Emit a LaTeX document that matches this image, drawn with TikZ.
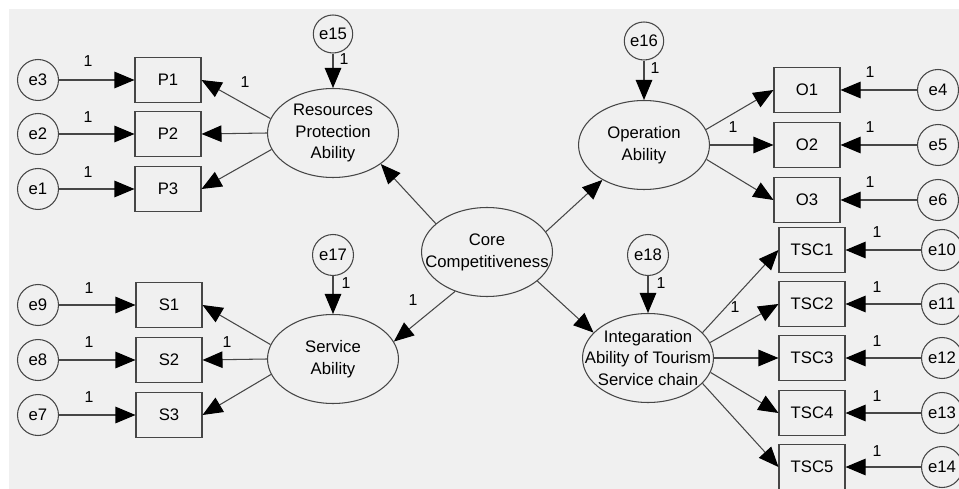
\documentclass[tikz,border=0pt]{standalone}
\usepackage{fontspec}
\setmainfont{Liberation Sans}
\usetikzlibrary{arrows.meta,shapes.geometric}
\definecolor{bggray}{RGB}{240,240,240}
\definecolor{linegray}{RGB}{70,70,70}
\tikzset{
  obs/.style={draw=linegray, line width=0.6pt, rectangle, minimum width=1.32cm, minimum height=0.9cm, inner sep=0pt},
  err/.style={draw=linegray, line width=0.6pt, circle, minimum size=0.82cm, inner sep=0pt},
  res/.style={draw=linegray, line width=0.6pt, ellipse, minimum width=0.68cm, minimum height=0.76cm, inner sep=0pt},
  latent/.style={draw=linegray, line width=0.6pt, ellipse, minimum width=2.62cm, minimum height=1.78cm, inner sep=0pt},
  ltext/.style={align=center, inner sep=0pt},
  one/.style={font=\fontsize{9}{10}\selectfont, inner sep=0pt},
  link/.style={draw=linegray, line width=0.6pt, -{Triangle[length=0.4cm, width=0.33cm, color=black]}}
}
\begin{document}
\begin{tikzpicture}[x=0.02cm, y=-0.02cm, font=\fontsize{9.5}{12.5}\selectfont]
    \useasboundingbox (0,0) rectangle (959,489);
    % Background
    \fill[white] (0,0) rectangle (959,489);
    \fill[bggray] (9,9) rectangle (959,489);
    % Core competitiveness ellipse
    \node[latent] (core) at (487,252) {};
    \node[ltext] (core-text) at (core) {Core\\Competitiveness};
    % Resources protection ability ellipse
    \node[latent] (rpa) at (333,133) {};
    \node[ltext] (rpa-text) at (rpa) {Resources\\Protection\\Ability};
    \node[res] (e15) at (333,34) {e15};
    \node[one] (l-e15) at (344,59) {1};
    % P boxes
    \node[obs] (P1) at (168,80) {P1};
    \node[obs] (P2) at (168,134) {P2};
    \node[obs] (P3) at (168,189) {P3};
    \node[err] (e3) at (38,80) {e3};
    \node[err] (e2) at (38,134) {e2};
    \node[err] (e1) at (38,189) {e1};
    \node[one] (l-e3) at (88,61) {1};
    \node[one] (l-e2) at (88,117) {1};
    \node[one] (l-e1) at (88,172) {1};
    \node[one] (l-P1) at (245,82) {1};
    % Service ability ellipse
    \node[latent] (sa) at (333,359) {};
    \node[ltext] (sa-text) at (sa) {Service\\Ability};
    \node[err] (e17) at (333,255) {e17};
    \node[one] (l-e17) at (346,283) {1};
    \node[one] (l-sa) at (413,300) {1};
    % S boxes
    \node[obs] (S1) at (169,305) {S1};
    \node[obs] (S2) at (169,360) {S2};
    \node[obs] (S3) at (169,415) {S3};
    \node[err] (e9) at (38,305) {e9};
    \node[err] (e8) at (38,360) {e8};
    \node[err] (e7) at (38,415) {e7};
    \node[one] (l-e9) at (89,288) {1};
    \node[one] (l-e8) at (89,342) {1};
    \node[one] (l-e7) at (89,397) {1};
    \node[one] (l-S2) at (227,342) {1};
    % Operation ability ellipse
    \node[latent] (op) at (644,145) {};
    \node[ltext] (op-text) at (op) {Operation\\Ability};
    \node[res] (e16) at (644,41) {e16};
    \node[one] (l-e16) at (655,68) {1};
    \node[one] (l-op) at (733,127) {1};
    % O boxes
    \node[obs] (O1) at (807,90) {O1};
    \node[obs] (O2) at (807,145) {O2};
    \node[obs] (O3) at (807,200) {O3};
    \node[err] (e4) at (938,90) {e4};
    \node[err] (e5) at (938,145) {e5};
    \node[err] (e6) at (938,200) {e6};
    \node[one] (l-e4) at (870,72) {1};
    \node[one] (l-e5) at (870,127) {1};
    \node[one] (l-e6) at (870,182) {1};
    % Integration ability ellipse
    \node[latent] (int) at (648,358) {};
    \node[ltext] (int-text) at (int) {Integaration\\Ability of Tourism\\Service chain};
    \node[err] (e18) at (648,255) {e18};
    \node[one] (l-e18) at (661,283) {1};
    \node[one] (l-int) at (735,307) {1};
    % TSC boxes
    \node[obs] (TSC1) at (812,250) {TSC1};
    \node[obs] (TSC2) at (812,304) {TSC2};
    \node[obs] (TSC3) at (812,358) {TSC3};
    \node[obs] (TSC4) at (812,413) {TSC4};
    \node[obs] (TSC5) at (812,467) {TSC5};
    \node[err] (e10) at (942,250) {e10};
    \node[err] (e11) at (942,304) {e11};
    \node[err] (e12) at (942,358) {e12};
    \node[err] (e13) at (942,413) {e13};
    \node[err] (e14) at (942,467) {e14};
    \node[one] (l-e10) at (877,232) {1};
    \node[one] (l-e11) at (877,287) {1};
    \node[one] (l-e12) at (877,341) {1};
    \node[one] (l-e13) at (877,396) {1};
    \node[one] (l-e14) at (877,451) {1};
    % Arrows from core
    \draw[link] (core.151) -- (rpa.-33);
    \draw[link] (core.19) -- (op.220);
    \draw[link] (core.231) -- (sa.16);
    \draw[link] (core.-30) -- (int.155);
    % Residual arrows
    \draw[link] (e15) -- (rpa);
    \draw[link] (e16) -- (op);
    \draw[link] (e17) -- (sa);
    \draw[link] (e18) -- (int);
    % Resources protection arrows
    \draw[link] (rpa.167) -- (P1.east);
    \draw[link] (rpa.180) -- (P2.east);
    \draw[link] (rpa.195) -- (P3.east);
    \draw[link] (e3) -- (P1);
    \draw[link] (e2) -- (P2);
    \draw[link] (e1) -- (P3);
    % Service arrows
    \draw[link] (sa.167) -- (S1.east);
    \draw[link] (sa.180) -- (S2.east);
    \draw[link] (sa.194) -- (S3.east);
    \draw[link] (e9) -- (S1);
    \draw[link] (e8) -- (S2);
    \draw[link] (e7) -- (S3);
    % Operation arrows
    \draw[link] (op.14) -- (O1.west);
    \draw[link] (op.0) -- (O2.west);
    \draw[link] (op.-13) -- (O3.west);
    \draw[link] (e4) -- (O1);
    \draw[link] (e5) -- (O2);
    \draw[link] (e6) -- (O3);
    % Integration arrows
    \draw[link] (int.25) -- (TSC1.west);
    \draw[link] (int.14) -- (TSC2.west);
    \draw[link] (int.0) -- (TSC3.west);
    \draw[link] (int.-13.5) -- (TSC4.west);
    \draw[link] (int.-25) -- (TSC5.west);
    \draw[link] (e10) -- (TSC1);
    \draw[link] (e11) -- (TSC2);
    \draw[link] (e12) -- (TSC3);
    \draw[link] (e13) -- (TSC4);
    \draw[link] (e14) -- (TSC5);
  \end{tikzpicture}
\end{document}
